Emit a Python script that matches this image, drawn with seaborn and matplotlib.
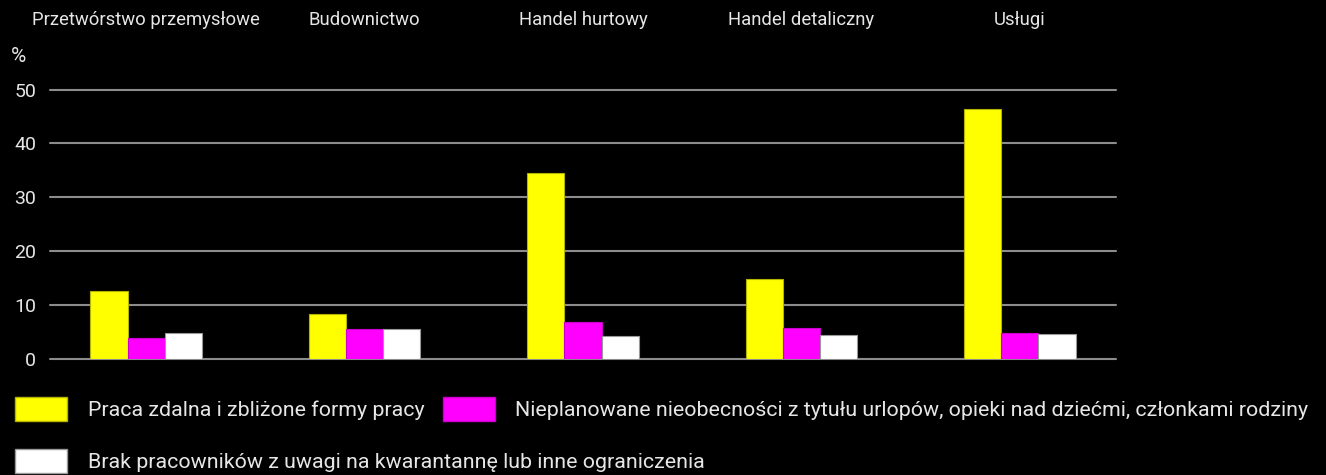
import matplotlib
matplotlib.use("Agg")
import matplotlib.pyplot as plt
import seaborn as sns
import pandas as pd
from matplotlib.patches import Patch

categories = ["Przetwórstwo przemysłowe", "Budownictwo", "Handel hurtowy", "Handel detaliczny", "Usługi"]
series_names = [
    "Praca zdalna i zbliżone formy pracy",
    "Nieplanowane nieobecności z tytułu urlopów, opieki nad dziećmi, członkami rodziny",
    "Brak pracowników z uwagi na kwarantannę lub inne ograniczenia",
]
praca_zdalna = [12.5, 8.3, 34.5, 14.9, 46.5]
nieobecnosci = [3.8, 5.5, 6.8, 5.7, 4.8]
brak_pracownikow = [4.8, 5.6, 4.2, 4.4, 4.6]
y_ticks = [0, 10, 20, 30, 40, 50]
colors = ["#ffff00", "#ff00ff", "#ffffff"]
edges = ["#b3b300", "#cc00cc", "#999999"]

rows = []
for name, vals in zip(series_names, [praca_zdalna, nieobecnosci, brak_pracownikow]):
    for c, v in zip(categories, vals):
        rows.append({"cat": c, "series": name, "val": v})
df = pd.DataFrame(rows)

sns.set_style("dark")
plt.rcParams["font.family"] = ["Roboto", "DejaVu Sans"]
text_color = "#e6e6e6"

fig = plt.figure(figsize=(13.26, 4.75), dpi=100, facecolor="black")
ax = fig.add_axes([50 / 1326, 1 - 358.7 / 475, 1066 / 1326, (358.7 - 89.7) / 475])
ax.set_facecolor("black")

sns.barplot(data=df, x="cat", y="val", hue="series", hue_order=series_names,
            order=categories, palette=colors, width=0.51, gap=0, ax=ax,
            legend=False, saturation=1)
for i, container in enumerate(ax.containers):
    for bar in container:
        bar.set_edgecolor(edges[i])
        bar.set_linewidth(0.8)
        bar.set_zorder(3)

ax.set_xlim(-0.44, 4.44)
ax.set_ylim(0, 50)
ax.set_yticks(y_ticks)
ax.grid(axis="y", color="#8c8c8c", linewidth=1.5, zorder=0)
ax.grid(axis="x", visible=False)
for gl in ax.get_ygridlines():
    gl.set_clip_on(False)
for s in ax.spines.values():
    s.set_visible(False)
ax.set_xlabel("")
ax.set_ylabel("")
ax.xaxis.set_ticks_position("top")
ax.tick_params(axis="x", length=0, pad=44, labelsize=13.3, colors=text_color)
ax.tick_params(axis="y", length=0, pad=10, labelsize=14, colors=text_color)

fig.text(11 / 1326, 1 - 57 / 475, "%", color=text_color, fontsize=15, va="center", ha="left")

handles = [Patch(facecolor=colors[i], edgecolor=edges[i], label=series_names[i]) for i in range(3)]
common = dict(loc="upper left", frameon=False, fontsize=15.4, borderpad=0, borderaxespad=0,
              handlelength=2.45, handleheight=1.35, handletextpad=0.95, columnspacing=0.85)
leg1 = fig.legend(handles[:2], series_names[:2], ncol=2,
                  bbox_to_anchor=(15 / 1326, 1 - 397 / 475), **common)
leg2 = fig.legend(handles[2:], series_names[2:], ncol=1,
                  bbox_to_anchor=(15 / 1326, 1 - 449 / 475), **common)
for leg in (leg1, leg2):
    for t in leg.get_texts():
        t.set_color(text_color)

fig.savefig("out.png", dpi=100, facecolor="black")
